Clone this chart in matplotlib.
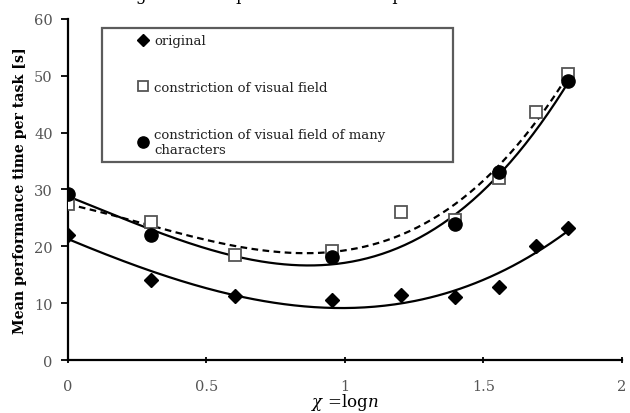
import numpy as np
import matplotlib
matplotlib.use("Agg")
import matplotlib.pyplot as plt

plt.rcParams['font.family'] = ['DejaVu Serif']
plt.rcParams['mathtext.fontset'] = 'dejavuserif'

# x = log10(n)
n_vals = [1, 2, 4, 9, 16, 25, 36, 49, 64]
original = [22.0, 14.1, 11.3, 10.6, 11.4, 11.0, 12.8, 20.1, 23.3]
visual = [27.4, 24.2, 18.4, 19.2, 26.0, 24.7, 32.0, 43.6, 50.3]
# circles not visible in the chart -> nan
many_chars = [29.2, 22.0, np.nan, 18.2, np.nan, 24.0, 33.1, np.nan, 49.0]

x = np.log10(n_vals)

fig = plt.figure(figsize=(6.3, 4.14), dpi=100)
ax = fig.add_axes([0.108, 0.128, 0.879, 0.824])

def trend(xs, ys, deg=3):
    xs = np.asarray(xs); ys = np.asarray(ys)
    m = ~np.isnan(ys)
    c = np.polyfit(xs[m], ys[m], deg)
    xx = np.linspace(xs[m].min(), xs[m].max(), 200)
    return xx, np.polyval(c, xx)

xx, yy = trend(x, original)
ax.plot(xx, yy, '-', color='black', lw=1.6, zorder=2)
xx, yy = trend(x, visual)
ax.plot(xx, yy, '--', color='black', lw=1.6, dashes=(3, 2), zorder=2)
xx, yy = trend(x, many_chars)
ax.plot(xx, yy, '-', color='black', lw=1.6, zorder=2)

ax.plot(x, original, 'D', color='black', ms=7, ls='none', zorder=3, label='original')
ax.plot(x, visual, 's', mfc='white', mec='#555555', mew=1.3, ms=9, ls='none', zorder=3,
        label='constriction of visual field')
ax.plot(x, many_chars, 'o', color='black', ms=9.5, ls='none', zorder=4,
        label='constriction of visual field of many\ncharacters')

ax.set_xlim(0, 2)
ax.set_ylim(0, 60)
ax.set_xticks([0, 0.5, 1, 1.5, 2])
ax.set_xticklabels(['0', '0.5', '1', '1.5', '2'])
ax.set_yticks(range(0, 61, 10))
ax.tick_params(axis='y', labelsize=10.5, labelcolor='#555555', length=5, width=1.3, pad=6)
ax.tick_params(axis='x', labelsize=10.5, labelcolor='#555555', length=5, width=1.3,
               direction='inout', pad=11)
for s in ['top', 'right']:
    ax.spines[s].set_visible(False)
for s in ['left', 'bottom']:
    ax.spines[s].set_linewidth(1.6)

ax.set_ylabel('Mean performance time per task [s]', fontsize=10.2, fontweight='bold',
              labelpad=5)
ax.set_xlabel(r'$\chi$ =log$\it{n}$', fontsize=12, labelpad=-1)

leg = ax.legend(loc='upper left', bbox_to_anchor=(0.061, 0.974, 0.634, 0), mode='expand',
                fontsize=9.5, frameon=True, fancybox=False, edgecolor='#333333',
                handlelength=5.25, handletextpad=-1.8, labelspacing=2.55,
                borderpad=0.5, markerscale=0.85, borderaxespad=0)
leg.get_frame().set_linewidth(1.6)
for t in leg.get_texts():
    t.set_color('#222222')

# title is cropped at the top edge in the source image
fig.text(0.46, 1.0, 'Fig. 3   Mean performance time per task', ha='center',
         va='baseline', fontsize=12)

fig.savefig('out.png', dpi=100)
